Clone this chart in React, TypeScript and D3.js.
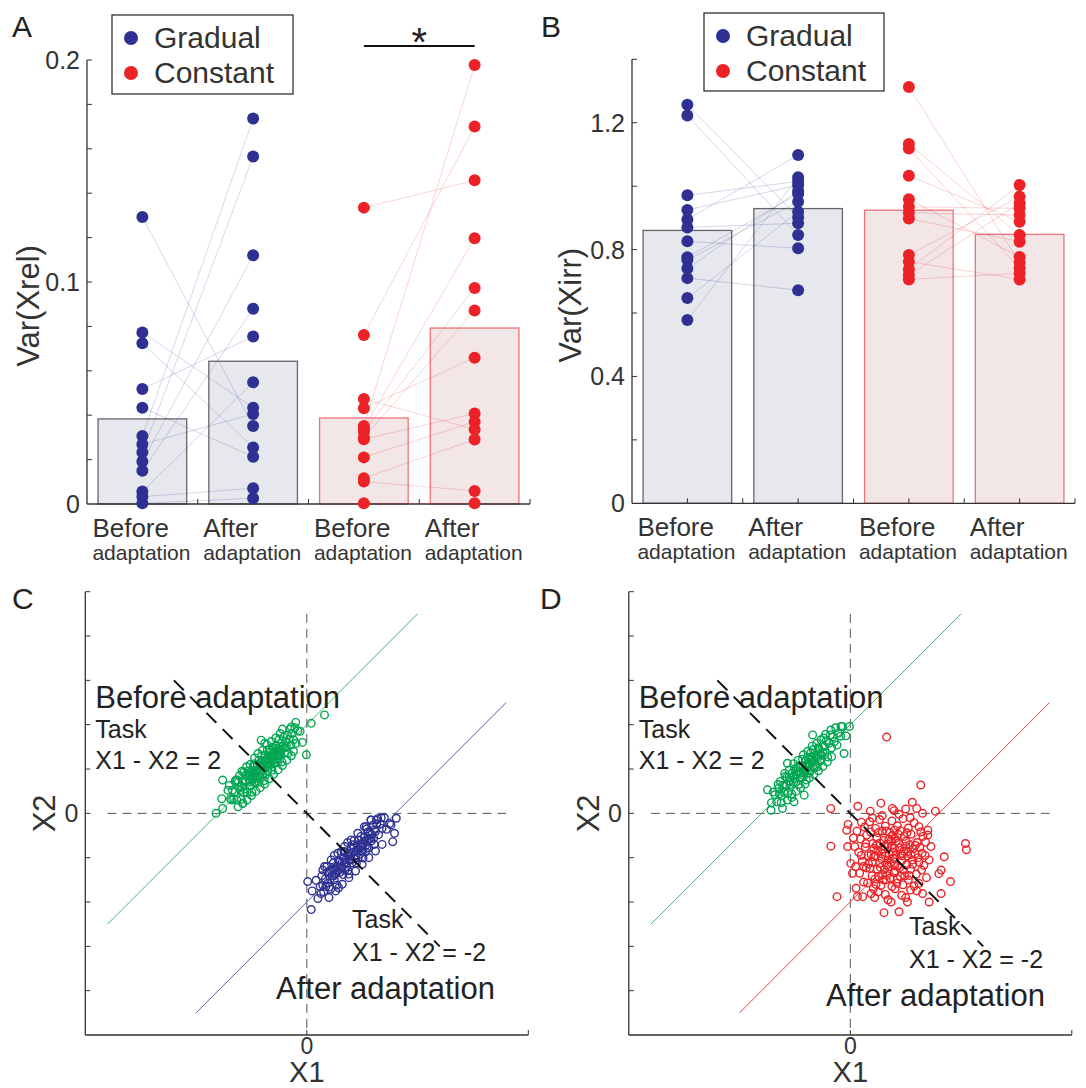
import React, {useRef, useEffect} from 'react';
import * as d3 from 'd3';

// ---------- panel A : Var(Xrel), one value per subject (before/after paired by index)
const gradualBeforeRel = [0.1293, 0.0773, 0.0724, 0.0518, 0.0434, 0.0306, 0.0269, 0.0233, 0.0191, 0.0150, 0.0056, 0.0033, 0.0003];
const gradualAfterRel = [0.0351, 0.0434, 0.0255, 0.0755, 0.0213, 0.1736, 0.0405, 0.1565, 0.1120, 0.0880, 0.0548, 0.0071, 0.0026];
const constantBeforeRel = [0.1335, 0.0761, 0.0473, 0.0431, 0.0351, 0.0340, 0.0326, 0.0299, 0.0292, 0.0210, 0.0116, 0.0101, 0.0003];
const constantAfterRel = [0.1458, 0.1700, 0.0336, 0.0659, 0.1977, 0.1197, 0.0973, 0.0872, 0.0408, 0.0371, 0.0291, 0.0059, 0.0003];

// ---------- panel B : Var(Xirr)
const gradualBeforeIrr = [1.257, 1.223, 0.971, 0.925, 0.895, 0.870, 0.826, 0.776, 0.767, 0.740, 0.710, 0.647, 0.578];
const gradualAfterIrr = [0.902, 0.846, 1.015, 1.003, 1.098, 0.883, 0.804, 0.975, 0.951, 0.985, 0.672, 0.919, 1.028];
const constantBeforeIrr = [1.313, 1.133, 1.119, 1.033, 0.959, 0.935, 0.916, 0.898, 0.783, 0.762, 0.738, 0.720, 0.706];
const constantAfterIrr = [0.759, 0.846, 0.741, 0.888, 0.777, 0.930, 0.909, 0.825, 0.967, 0.706, 1.004, 0.946, 0.725];

const categoryTop = ['Before', 'After', 'Before', 'After'];
const categoryBottom = 'adaptation';
const legendLabels = ['Gradual', 'Constant'];
const relTicks = [0, 0.1, 0.2];
const irrTicks = [0, 0.4, 0.8, 1.2];

// ---------- panels C, D : (X1, X2) samples
const beforeTask = 2;   // manifold X2 = X1 + 2
const afterTask = -2;   // manifold X2 = X1 - 2
const beforeLineX = [-4.5, 2.5];
const afterLineX = [-2.5, 4.5];
const taskLineX = [-3, 3];

const gradualBeforeCloud = [
  [-2.05, 0.00], [-1.90, 0.11], [-1.92, 0.33], [-1.90, 0.75], [-1.44, 0.23], [0.40, 2.22], [0.10, 2.03], [-0.01, 1.32],
  [-1.03, 1.65], [-0.95, 1.58], [-1.78, 0.52], [-1.70, 0.30], [-1.62, 0.72], [-1.55, 0.15], [-0.25, 2.05], [-0.35, 1.95],
  [-0.15, 1.85], [-0.55, 1.90], [-0.10, 1.60], [-0.30, 1.40],
  [-1.62, 0.48], [-1.58, 0.30], [-1.55, 0.70], [-1.50, 0.52], [-1.48, 0.32], [-1.45, 0.73], [-1.42, 0.93], [-1.40, 0.55],
  [-1.38, 0.72], [-1.35, 0.47], [-1.33, 0.95], [-1.30, 0.75], [-1.28, 0.62], [-1.26, 0.94], [-1.24, 0.48], [-1.22, 0.90],
  [-1.20, 0.80], [-1.18, 1.12], [-1.16, 0.69], [-1.14, 0.94], [-1.12, 1.10], [-1.10, 0.85], [-1.08, 0.70], [-1.06, 1.09],
  [-1.04, 0.98], [-1.02, 1.30], [-1.00, 0.88], [-0.98, 1.12], [-0.96, 0.74], [-0.94, 1.31], [-0.92, 1.08], [-0.90, 1.24],
  [-0.88, 0.96], [-0.86, 1.20], [-0.84, 1.44], [-0.82, 1.10], [-0.80, 1.38], [-0.78, 0.97], [-0.76, 1.28], [-0.74, 1.38],
  [-0.72, 1.16], [-0.70, 1.52], [-0.68, 1.32], [-0.66, 1.14], [-0.64, 1.46], [-0.62, 1.68], [-0.60, 1.34], [-0.58, 1.58],
  [-0.56, 1.16], [-0.54, 1.51], [-0.52, 1.72], [-0.50, 1.36], [-0.48, 1.62], [-0.46, 1.52], [-0.44, 1.76], [-0.42, 1.36],
  [-0.40, 1.68], [-0.38, 1.90], [-0.36, 1.54], [-0.34, 1.80], [-0.30, 1.66], [-0.27, 1.93], [-0.24, 1.58], [-0.20, 1.86],
  [-1.31, 0.84], [-1.27, 0.71], [-1.21, 1.05], [-1.17, 0.88], [-1.13, 0.79], [-1.09, 1.19], [-1.05, 0.81], [-1.01, 1.17],
  [-0.97, 1.07], [-0.93, 0.87], [-0.89, 1.43], [-0.85, 1.11], [-0.81, 1.27], [-0.77, 1.49], [-0.73, 1.21], [-0.69, 1.45],
  [-0.65, 1.25], [-0.61, 1.41], [-1.47, 0.61], [-1.43, 0.47], [-1.39, 0.85], [-1.53, 0.59], [-1.57, 0.75], [-1.65, 0.33],
  [-1.68, 0.52], [-1.72, 0.33], [-1.75, 0.63],
  [-1.60, 0.75], [-1.52, 0.85], [-1.46, 0.95], [-1.36, 1.05], [-1.28, 1.10], [-1.18, 1.25], [-1.10, 1.35], [-1.00, 1.42],
  [-0.90, 1.55], [-0.80, 1.62], [-0.70, 1.70], [-0.60, 1.80], [-1.45, 0.22], [-1.35, 0.30], [-1.25, 0.40], [-1.15, 0.50],
  [-1.05, 0.58], [-0.95, 0.66], [-0.85, 0.78], [-0.75, 0.88], [-0.65, 0.98], [-0.55, 1.08], [-0.45, 1.20], [-0.35, 1.30],
  [-1.19, 0.92], [-1.11, 0.98], [-1.03, 1.05], [-0.99, 0.96], [-0.91, 1.14], [-0.87, 1.05], [-0.79, 1.18], [-0.75, 1.12],
  [-0.67, 1.40], [-0.63, 1.30], [-1.07, 0.92], [-1.15, 0.85], [-1.23, 0.78], [-1.29, 0.86], [-0.83, 1.30], [-0.71, 1.30],
  [-0.95, 1.20], [-1.19, 0.70], [-0.57, 1.45], [-0.49, 1.48]
];

const gradualAfterCloud = [
  [0.10, -2.17], [0.02, -1.54], [2.02, -0.11], [1.90, -0.26], [1.94, -0.64], [0.21, -1.51], [0.32, -1.81], [0.25, -1.92],
  [0.51, -1.66], [0.36, -1.28], [1.87, -0.23], [1.98, -0.45], [1.57, -0.15], [1.45, -0.15], [1.34, -0.30], [0.12, -1.75],
  [0.30, -1.65], [0.34, -1.41], [0.38, -1.77], [0.42, -1.48], [0.45, -1.20], [0.48, -1.57], [0.51, -1.31], [0.54, -1.71],
  [0.57, -1.41], [0.60, -1.12], [0.62, -1.50], [0.65, -1.23], [0.68, -1.62], [0.70, -1.30], [0.72, -1.06], [0.75, -1.33],
  [0.78, -0.86], [0.80, -1.10], [0.82, -1.38], [0.85, -1.11], [0.87, -0.87], [0.90, -1.20], [0.92, -0.93], [0.95, -1.37],
  [0.97, -1.03], [1.00, -0.80], [1.02, -1.12], [1.05, -0.87], [1.07, -0.61], [1.10, -0.94], [1.12, -1.12], [1.15, -0.71],
  [1.17, -0.81], [1.20, -0.92], [1.22, -0.52], [1.25, -0.69], [1.27, -1.01], [1.30, -0.54], [1.32, -0.74], [1.35, -0.35],
  [1.37, -0.63], [1.40, -0.78], [1.43, -0.45], [1.46, -0.62], [1.49, -0.27], [1.52, -0.70], [1.55, -0.41], [1.58, -0.24],
  [1.62, -0.48], [1.66, -0.24], [1.70, -0.34], [1.75, -0.10], [1.80, -0.36],
  [0.74, -1.10], [0.79, -1.23], [0.84, -0.86], [0.88, -1.04], [0.93, -1.29], [0.99, -0.91], [1.03, -0.71], [1.08, -1.02],
  [1.13, -0.83], [1.18, -0.60], [1.23, -0.85], [1.28, -0.70], [1.33, -0.87], [1.38, -0.42], [1.44, -0.56], [0.66, -1.28],
  [0.61, -1.41], [0.56, -1.30], [0.47, -1.33], [0.43, -1.65], [0.36, -1.62], [1.53, -0.37], [1.60, -0.12], [1.68, -0.10],
  [0.40, -1.20], [0.55, -1.05], [0.70, -0.90], [0.85, -0.75], [1.00, -0.60], [1.15, -0.45], [1.30, -0.30], [1.45, -0.15],
  [0.62, -0.95], [0.92, -0.66], [0.50, -1.90], [0.65, -1.75], [0.80, -1.60], [0.95, -1.45], [1.10, -1.30], [1.25, -1.15],
  [1.40, -1.00], [1.55, -0.85], [1.70, -0.70], [0.72, -1.68], [0.76, -1.22], [0.83, -1.00], [0.89, -1.13], [0.96, -0.96],
  [1.01, -1.05], [1.06, -0.78], [1.11, -0.86], [1.16, -1.00], [1.21, -0.74], [1.26, -0.85], [1.31, -0.62], [1.36, -0.78],
  [1.41, -0.58], [0.69, -1.20], [0.64, -1.38], [0.59, -1.25], [1.47, -0.48], [1.51, -0.56], [0.53, -1.48], [0.86, -1.28]
];

const constantBeforeCloud = [
  [-1.79, 0.07], [-1.87, 0.53], [-1.53, 0.11], [-0.21, 1.96], [-0.02, 1.96], [-0.14, 1.35], [-0.10, 1.75], [-0.44, 1.88],
  [-1.04, 0.41], [-1.27, 0.26], [-0.85, 1.77], [-1.42, 1.13],
  [-1.70, 0.42], [-1.66, 0.26], [-1.63, 0.65], [-1.60, 0.44], [-1.56, 0.24], [-1.53, 0.63], [-1.50, 0.48], [-1.47, 0.83],
  [-1.44, 0.64], [-1.41, 0.45], [-1.38, 0.82], [-1.35, 0.65], [-1.32, 0.44], [-1.29, 0.83], [-1.26, 1.00], [-1.23, 0.71],
  [-1.20, 0.88], [-1.17, 0.65], [-1.14, 1.04], [-1.11, 0.91], [-1.08, 1.22], [-1.05, 0.85], [-1.02, 1.08], [-0.99, 0.75],
  [-0.96, 1.26], [-0.93, 1.11], [-0.90, 0.98], [-0.87, 1.27], [-0.84, 1.44], [-0.81, 1.15], [-0.78, 1.32], [-0.75, 1.05],
  [-0.72, 1.48], [-0.69, 1.33], [-0.66, 1.20], [-0.63, 1.49], [-0.60, 1.70], [-0.57, 1.37], [-0.54, 1.64], [-0.51, 1.27],
  [-0.48, 1.58], [-0.45, 1.77], [-0.42, 1.48], [-0.39, 1.73], [-0.36, 1.62], [-0.33, 1.93], [-0.30, 1.54], [-0.27, 1.81],
  [-0.22, 1.74], [-0.18, 1.96],
  [-1.37, 0.73], [-1.31, 0.91], [-1.25, 0.79], [-1.19, 1.05], [-1.13, 0.79], [-1.07, 1.07], [-1.01, 0.97], [-0.95, 1.13],
  [-0.89, 1.37], [-0.83, 1.03], [-0.77, 1.27], [-0.71, 1.45], [-0.65, 1.31], [-0.59, 1.51], [-1.43, 0.81], [-1.49, 0.61],
  [-1.55, 0.39], [-1.61, 0.57], [-1.74, 0.48], [-1.78, 0.24],
  [-1.58, 0.72], [-1.48, 0.90], [-1.38, 0.98], [-1.28, 1.12], [-1.18, 1.20], [-1.06, 1.32], [-0.96, 1.40], [-0.86, 1.52],
  [-0.76, 1.58], [-0.66, 1.66], [-0.56, 1.78], [-1.42, 0.30], [-1.32, 0.36], [-1.22, 0.50], [-1.12, 0.58], [-1.02, 0.66],
  [-0.92, 0.80], [-0.82, 0.88], [-0.72, 0.96], [-0.62, 1.06], [-0.52, 1.16], [-0.42, 1.28], [-1.16, 0.94], [-1.10, 0.82],
  [-1.04, 0.96], [-0.98, 1.04], [-0.92, 0.92], [-0.86, 1.16], [-0.80, 1.06], [-0.74, 1.24], [-0.68, 1.18], [-1.22, 0.88],
  [-1.28, 0.70], [-0.62, 1.38], [-0.88, 1.22], [-1.00, 1.20]
];

const constantAfterCloud = [
  [0.82, 1.72], [1.59, 0.64], [-0.44, 0.11], [-0.44, -0.74], [-0.30, -1.88], [2.60, -0.68], [2.62, -0.82], [0.76, -2.24],
  [2.26, -1.54], [1.92, 0.05], [0.17, 0.16], [0.69, 0.23], [0.95, 0.11], [0.99, 0.06], [1.50, 0.11], [1.63, 0.00],
  [-0.08, -0.38], [-0.06, -0.75], [0.01, -1.13], [0.05, -1.35], [0.13, -1.69], [0.16, -1.88], [0.28, -1.88], [0.47, -1.81],
  [0.92, -2.00], [1.10, -2.22], [1.29, -2.00], [1.63, -1.81], [1.78, -2.00], [2.05, -1.81], [2.05, -1.28], [2.12, -0.98],
  [2.00, -1.36], [1.82, -0.75], [1.75, -0.49], [1.75, -0.38], [1.59, -0.42], [1.40, 0.25], [1.25, 0.10], [0.45, 0.05],
  [-0.05, -0.25], [0.07, -0.55],
  [0.32, -0.31], [0.44, -0.19], [0.57, -0.34], [0.66, -0.14], [0.79, -0.29], [0.94, -0.17], [1.06, -0.28], [1.19, -0.12],
  [1.31, -0.33], [1.44, -0.21], [0.23, -0.58], [0.37, -0.49], [0.51, -0.68], [0.63, -0.44], [0.76, -0.61], [0.89, -0.43],
  [1.01, -0.57], [1.13, -0.39], [1.26, -0.63], [1.37, -0.47], [1.51, -0.66], [1.64, -0.52], [0.19, -0.88], [0.34, -0.76],
  [0.47, -0.93], [0.59, -0.72], [0.71, -0.91], [0.84, -0.69], [0.96, -0.87], [1.09, -0.67], [1.21, -0.85], [1.34, -0.71],
  [1.46, -0.91], [1.57, -0.77], [1.69, -0.95], [0.27, -1.08], [0.41, -1.14], [0.53, -0.98], [0.66, -1.13], [0.79, -0.96],
  [0.91, -1.11], [1.03, -0.93], [1.16, -1.07], [1.29, -0.96], [1.41, -1.15], [1.53, -1.00], [1.66, -1.17], [0.21, -1.35],
  [0.36, -1.23], [0.49, -1.41], [0.61, -1.26], [0.73, -1.38], [0.86, -1.20], [0.99, -1.34], [1.11, -1.23], [1.23, -1.41],
  [1.36, -1.26], [1.49, -1.37], [1.61, -1.28], [0.39, -1.57], [0.56, -1.48], [0.69, -1.63], [0.81, -1.50], [0.94, -1.65],
  [1.06, -1.48], [1.19, -1.61], [1.31, -1.50], [1.44, -1.64], [0.63, -1.77], [0.79, -1.83], [1.01, -1.70], [1.16, -1.85],
  [1.36, -1.73], [0.52, -1.70], [1.55, -1.58],
  [0.67, -0.67], [0.73, -0.81], [0.87, -0.58], [0.93, -0.74], [1.04, -0.62], [1.15, -0.92], [1.25, -0.74], [0.70, -1.02],
  [0.83, -1.16], [0.97, -1.01], [1.07, -1.19], [1.17, -0.96], [1.27, -1.16], [0.57, -0.96], [0.88, -0.93], [1.00, -0.79],
  [0.77, -1.27], [1.13, -1.42], [0.64, -1.42], [1.37, -0.93], [0.53, -0.79], [0.90, -1.46], [1.47, -0.72], [0.44, -1.24],
  [0.60, -0.55], [0.82, -0.40], [1.08, -0.47], [1.22, -0.52], [0.40, -0.95], [1.40, -1.05], [0.30, -1.20], [0.75, -1.50],
  [1.02, -1.30], [0.95, -0.50],
  [0.25, -0.20], [0.50, -0.10], [0.72, -0.05], [1.10, -0.02], [1.35, -0.10], [1.55, -0.30], [1.70, -0.65], [1.78, -1.05],
  [1.72, -1.45], [1.50, -1.75], [1.25, -1.90], [0.85, -1.95], [0.55, -1.90], [0.30, -1.55], [0.12, -1.20], [0.10, -0.75],
  [0.15, -0.40], [0.62, -0.85], [0.78, -0.74], [0.92, -0.62], [1.12, -0.78], [1.30, -0.86], [1.42, -0.80], [0.50, -1.10],
  [0.68, -1.22], [0.85, -1.05], [1.00, -1.18], [1.20, -1.28], [1.33, -1.40], [0.58, -1.60], [0.82, -1.40], [1.05, -1.58],
  [0.46, -0.42], [0.72, -0.40], [1.00, -0.38], [1.28, -0.44], [0.35, -0.68], [1.55, -1.10], [1.62, -0.90], [0.25, -0.95]
];

const FONT = '"Liberation Sans", Arial, Helvetica, sans-serif';
const INK = '#333';
const BLUE = '#2e3192';
const RED = '#ec2227';
const GREEN = '#00a651';

function drawBarPanel(root, cfg) {
  const g = root.append('g');
  const x = d3.scaleLinear().domain([0.5, 4.5]).range([cfg.left, cfg.right]);
  const y = d3.scaleLinear().domain([0, cfg.yMax]).range([cfg.bottom, cfg.top]);
  const bw = x(1.4) - x(0.6);

  const series = [
    {values: cfg.data[0], dot: BLUE, fill: '#e7e8ee', stroke: '#666'},
    {values: cfg.data[1], dot: BLUE, fill: '#e7e8ee', stroke: '#666'},
    {values: cfg.data[2], dot: RED, fill: '#f2e6e6', stroke: '#ee7377'},
    {values: cfg.data[3], dot: RED, fill: '#f2e6e6', stroke: '#ee7377'},
  ];

  g.selectAll('rect.bar').data(series).join('rect')
    .attr('class', 'bar')
    .attr('x', (d, i) => x(i + 1) - bw / 2)
    .attr('y', d => y(d3.mean(d.values)))
    .attr('width', bw)
    .attr('height', d => y(0) - y(d3.mean(d.values)))
    .attr('fill', d => d.fill)
    .attr('stroke', d => d.stroke)
    .attr('stroke-width', 1.3);

  // axes
  g.append('line').attr('x1', x(0.5)).attr('x2', x(0.5)).attr('y1', y(0)).attr('y2', y(cfg.yMax))
    .attr('stroke', INK).attr('stroke-width', 1.3);
  g.append('line').attr('x1', x(0.5)).attr('x2', x(4.5)).attr('y1', y(0)).attr('y2', y(0))
    .attr('stroke', INK).attr('stroke-width', 1.3);

  const minor = d3.range(1, Math.round(cfg.yMax / cfg.minorStep) + 1).map(k => k * cfg.minorStep);
  g.selectAll('line.ytick').data(minor).join('line')
    .attr('x1', x(0.5)).attr('x2', x(0.5) + 5)
    .attr('y1', d => y(d)).attr('y2', d => y(d))
    .attr('stroke', INK).attr('stroke-width', 1);
  g.selectAll('line.xtick').data(d3.range(1, 4.51, 0.5)).join('line')
    .attr('x1', d => x(d)).attr('x2', d => x(d))
    .attr('y1', y(0)).attr('y2', y(0) - 5)
    .attr('stroke', INK).attr('stroke-width', 1);

  g.selectAll('text.ylab').data(cfg.ticks).join('text')
    .attr('x', x(0.5) - 7).attr('y', d => y(d) + 9)
    .attr('text-anchor', 'end').attr('font-size', 25).attr('fill', INK)
    .attr('font-family', FONT)
    .text(d => String(d));

  // category labels: two-line block centred on the category
  categoryTop.forEach((t, i) => {
    g.append('text').attr('x', x(i + 1) - 50).attr('y', y(0) + 33)
      .attr('font-size', 26).attr('fill', INK).attr('font-family', FONT).text(t);
    g.append('text').attr('x', x(i + 1) - 50).attr('y', y(0) + 56)
      .attr('font-size', 21).attr('fill', INK).attr('font-family', FONT).text(categoryBottom);
  });

  // paired subject lines
  [[0, 1], [2, 3]].forEach(([a, b]) => {
    g.append('g').selectAll('line').data(series[a].values).join('line')
      .attr('x1', x(a + 1)).attr('x2', x(b + 1))
      .attr('y1', d => y(d)).attr('y2', (d, k) => y(series[b].values[k]))
      .attr('stroke', series[a].dot).attr('stroke-opacity', 0.22).attr('stroke-width', 0.9);
  });

  series.forEach((s, i) => {
    g.append('g').selectAll('circle').data(s.values).join('circle')
      .attr('cx', x(i + 1)).attr('cy', d => y(d)).attr('r', 6)
      .attr('fill', s.dot);
  });

  // y title
  g.append('text')
    .attr('transform', `translate(${cfg.titleX}, ${(y(0) + y(cfg.yMax)) / 2 + 24}) rotate(-90)`)
    .attr('text-anchor', 'middle').attr('font-size', 31).attr('fill', INK).attr('font-family', FONT)
    .text(cfg.title);

  // legend
  const lg = g.append('g');
  lg.append('rect').attr('x', cfg.legend.x).attr('y', cfg.legend.y).attr('width', cfg.legend.w).attr('height', cfg.legend.h)
    .attr('fill', '#fff').attr('stroke', '#222').attr('stroke-width', 1.2);
  legendLabels.forEach((lab, i) => {
    const cy = cfg.legend.y + 23 + i * 35;
    lg.append('circle').attr('cx', cfg.legend.x + 19).attr('cy', cy).attr('r', 7).attr('fill', i === 0 ? BLUE : RED);
    lg.append('text').attr('x', cfg.legend.x + 42).attr('y', cy + 10)
      .attr('font-size', 30).attr('fill', INK).attr('font-family', FONT).text(lab);
  });

  g.append('text').attr('x', cfg.letterX).attr('y', 37).attr('font-size', 30)
    .attr('fill', '#222').attr('font-family', FONT).text(cfg.letter);

  if (cfg.sig) {
    g.append('line').attr('x1', x(3)).attr('x2', x(4)).attr('y1', cfg.sig).attr('y2', cfg.sig)
      .attr('stroke', '#111').attr('stroke-width', 2);
    g.append('text').attr('x', x(3.5)).attr('y', cfg.sig + 10).attr('text-anchor', 'middle')
      .attr('font-size', 40).attr('fill', '#222').attr('font-family', FONT).text('*');
  }
}

function drawTaskPanel(root, cfg) {
  const g = root.append('g');
  const x = d3.scaleLinear().domain([-5, 5]).range([cfg.left, cfg.left + 443]);
  const y = d3.scaleLinear().domain([-5, 5]).range([1035, 591.7]);

  g.append('line').attr('x1', x(-5)).attr('x2', x(-5)).attr('y1', y(-5)).attr('y2', y(5))
    .attr('stroke', INK).attr('stroke-width', 1.3);
  g.append('line').attr('x1', x(-5)).attr('x2', x(5)).attr('y1', y(-5)).attr('y2', y(-5))
    .attr('stroke', INK).attr('stroke-width', 1.3);
  g.selectAll('line.yt').data(d3.range(-4, 6)).join('line')
    .attr('x1', x(-5)).attr('x2', x(-5) + 5).attr('y1', d => y(d)).attr('y2', d => y(d))
    .attr('stroke', INK).attr('stroke-width', 1);
  g.selectAll('line.xt').data([0, 5]).join('line')
    .attr('x1', d => x(d)).attr('x2', d => x(d)).attr('y1', y(-5)).attr('y2', y(-5) - 5)
    .attr('stroke', INK).attr('stroke-width', 1);

  // reference axes through the origin
  g.append('line').attr('x1', x(-4.5)).attr('x2', x(4.5)).attr('y1', y(0)).attr('y2', y(0))
    .attr('stroke', '#555').attr('stroke-width', 1).attr('stroke-dasharray', '9,6');
  g.append('line').attr('x1', x(0)).attr('x2', x(0)).attr('y1', y(4.5)).attr('y2', y(-5))
    .attr('stroke', '#555').attr('stroke-width', 1).attr('stroke-dasharray', '9,6');

  // solution manifolds
  g.append('line').attr('x1', x(beforeLineX[0])).attr('y1', y(beforeLineX[0] + beforeTask))
    .attr('x2', x(beforeLineX[1])).attr('y2', y(beforeLineX[1] + beforeTask))
    .attr('stroke', '#3cb86a').attr('stroke-width', 1);
  g.append('line').attr('x1', x(afterLineX[0])).attr('y1', y(afterLineX[0] + afterTask))
    .attr('x2', x(afterLineX[1])).attr('y2', y(afterLineX[1] + afterTask))
    .attr('stroke', cfg.afterLine).attr('stroke-width', 1);

  const clouds = [{pts: cfg.before, color: GREEN}, {pts: cfg.after, color: cfg.afterColor}];
  clouds.forEach(c => {
    g.append('g').selectAll('circle').data(c.pts).join('circle')
      .attr('cx', d => x(d[0])).attr('cy', d => y(d[1])).attr('r', 3.8)
      .attr('fill', 'none').attr('stroke', c.color).attr('stroke-width', 1.4);
  });

  g.append('line').attr('x1', x(taskLineX[0])).attr('y1', y(-taskLineX[0]))
    .attr('x2', x(taskLineX[1])).attr('y2', y(-taskLineX[1]))
    .attr('stroke', '#111').attr('stroke-width', 2).attr('stroke-dasharray', '14,9');

  const txt = (tx, ty, s, size, anchor = 'start') => g.append('text').attr('x', tx).attr('y', ty)
    .attr('font-size', size).attr('fill', '#222').attr('font-family', FONT).attr('text-anchor', anchor).text(s);

  txt(cfg.left + 10, 708, 'Before adaptation', 31);
  txt(cfg.left + 10, 738, 'Task', 25);
  txt(cfg.left + 10, 769, 'X1 - X2 = 2', 25);
  txt(cfg.lowTaskX, cfg.lowY, 'Task', 25);
  txt(cfg.lowTaskX, cfg.lowY + 33, 'X1 - X2 = -2', 25);
  txt(cfg.lowAfterX, cfg.lowY + 71, 'After adaptation', 31);

  g.append('text').attr('x', x(-5) - 7).attr('y', y(0) + 9).attr('text-anchor', 'end')
    .attr('font-size', 25).attr('fill', INK).attr('font-family', FONT).text('0');
  g.append('text').attr('x', x(0)).attr('y', y(-5) + 19).attr('text-anchor', 'middle')
    .attr('font-size', 23).attr('fill', INK).attr('font-family', FONT).text('0');
  g.append('text').attr('x', x(0)).attr('y', y(-5) + 47).attr('text-anchor', 'middle')
    .attr('font-size', 29).attr('fill', INK).attr('font-family', FONT).text('X1');
  g.append('text').attr('transform', `translate(${x(-5) - 30}, ${y(0)}) rotate(-90)`).attr('text-anchor', 'middle')
    .attr('font-size', 31).attr('fill', INK).attr('font-family', FONT).text('X2');

  g.append('text').attr('x', cfg.letterX).attr('y', 609).attr('font-size', 30)
    .attr('fill', '#222').attr('font-family', FONT).text(cfg.letter);
}

export default function App() {
  const svgRef = useRef(null);

  useEffect(() => {
    const svg = d3.select(svgRef.current);
    svg.selectAll('*').remove();

    drawBarPanel(svg, {
      left: 87, right: 530, top: 60, bottom: 504, yMax: 0.2, minorStep: 0.02, ticks: relTicks,
      data: [gradualBeforeRel, gradualAfterRel, constantBeforeRel, constantAfterRel],
      title: 'Var(Xrel)', titleX: 39, letter: 'A', letterX: 12,
      legend: {x: 112, y: 15, w: 181, h: 79}, sig: 46,
    });
    drawBarPanel(svg, {
      left: 632, right: 1075, top: 59.3, bottom: 503.3, yMax: 1.4, minorStep: 0.2, ticks: irrTicks,
      data: [gradualBeforeIrr, gradualAfterIrr, constantBeforeIrr, constantAfterIrr],
      title: 'Var(Xirr)', titleX: 581, letter: 'B', letterX: 541,
      legend: {x: 704, y: 13, w: 180, h: 78},
    });
    drawTaskPanel(svg, {
      left: 85.3, before: gradualBeforeCloud, after: gradualAfterCloud, afterColor: BLUE, afterLine: '#5a5fb3',
      lowTaskX: 352, lowAfterX: 276, lowY: 928, letter: 'C', letterX: 12,
    });
    drawTaskPanel(svg, {
      left: 628.8, before: constantBeforeCloud, after: constantAfterCloud, afterColor: RED, afterLine: '#e8414a',
      lowTaskX: 909, lowAfterX: 826, lowY: 935, letter: 'D', letterX: 540,
    });
  }, []);

  return (
    <div style={{position: 'absolute', left: 0, top: 0, background: '#fff'}}>
      <svg ref={svgRef} width={1086} height={1088} style={{display: 'block'}} />
    </div>
  );
}
